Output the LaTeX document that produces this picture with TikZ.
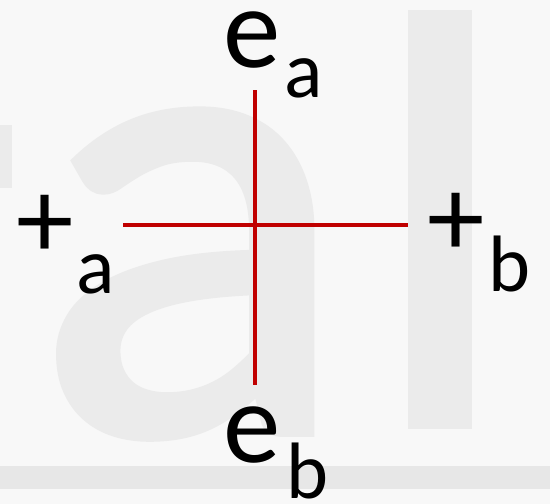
\documentclass[tikz,border=0pt]{standalone}
\usepackage{fontspec}
\setmainfont{Carlito}
\newfontfamily\wmfont[FakeBold=1.5]{Carlito}
\definecolor{bg}{HTML}{F8F8F8}
\definecolor{wm}{HTML}{EBEBEB}
\definecolor{band}{HTML}{E7E7E7}
\definecolor{axis}{HTML}{C00000}
\begin{document}
\begin{tikzpicture}[x=1pt,y=-1pt,
  big/.style={inner sep=0pt,font=\fontsize{115}{115}\selectfont},
  sub/.style={inner sep=0pt,font=\fontsize{80}{80}\selectfont},
  wmark/.style={inner sep=0pt,text=wm,font=\wmfont\fontsize{660}{660}\selectfont},
  axisline/.style={draw=axis,line width=4pt}]
\useasboundingbox (0,0) rectangle (550,504);
\fill[bg] (0,0) rectangle (550,504);
% watermark
\fill[wm] (0,125) rectangle (12,188);
\node[wmark,anchor=base] (wa) at (192,432) {a};
\fill[wm] (408,10) rectangle (472,429);
\fill[band] (0,466) rectangle (550,489);
% labels
\node[big] (ea) at (252,40) {e};
\node[sub] (eas) at (304,78) {a};
\node[big] (pa) at (45,227) {+};
\node[sub] (pas) at (96,274) {a};
\node[big] (pb) at (456,225) {+};
\node[sub] (pbs) at (510,264) {b};
\node[big] (eb) at (252,435) {e};
\node[sub] (ebs) at (308,471) {b};
% axes
\coordinate (top) at (255,90);
\coordinate (bot) at (255,385);
\coordinate (lft) at (123,225);
\coordinate (rgt) at (408,225);
\draw[axisline] (lft) -- (rgt);
\draw[axisline] (top) -- (bot);
\end{tikzpicture}
\end{document}
